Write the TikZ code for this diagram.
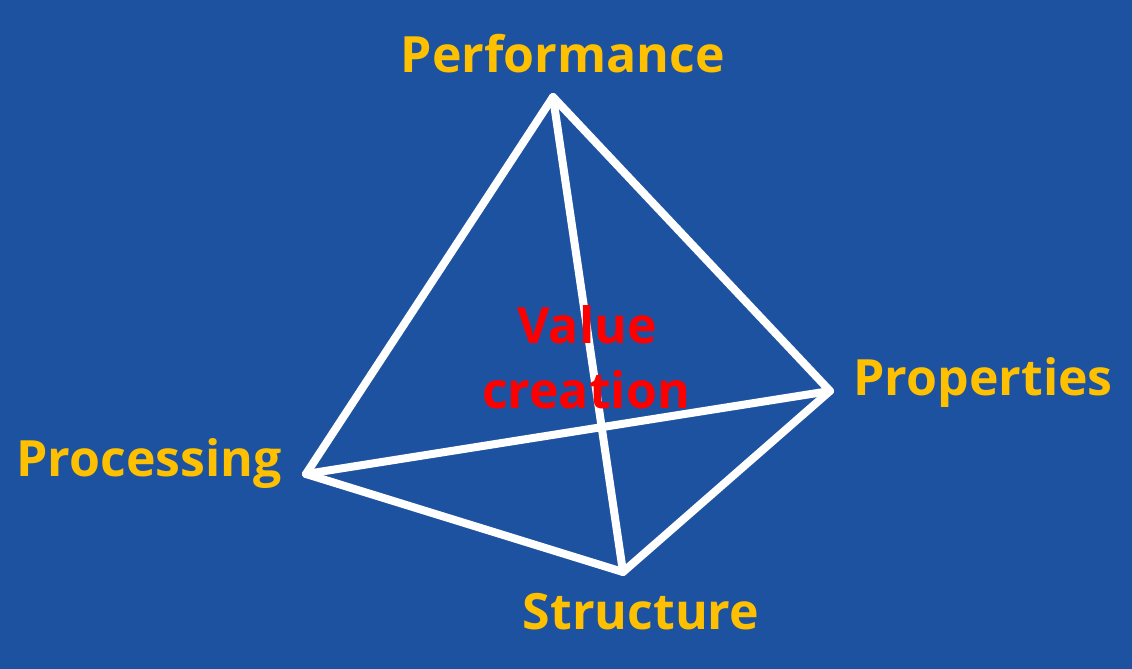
\documentclass[tikz,border=0pt]{standalone}
\usepackage{fontspec}
\setmainfont{Open Sans}
\definecolor{bgblue}{HTML}{1D52A1}
\definecolor{gold}{HTML}{FFC000}
\definecolor{vred}{HTML}{FF0000}
\begin{document}
\begin{tikzpicture}[x=1pt,y=-1pt,
  edge/.style={draw=white,line width=8pt,line join=round,line cap=round},
  lbl/.style={text=gold,font=\fontsize{50}{60}\selectfont\bfseries,anchor=base,inner sep=0pt},
  vlbl/.style={text=vred,font=\fontsize{50}{60}\selectfont\bfseries,anchor=base,inner sep=0pt}]
\fill[bgblue] (0,0) rectangle (1132,669);
\useasboundingbox (0,0) rectangle (1132,669);
\coordinate (T) at (553,97);
\coordinate (R) at (830,391);
\coordinate (L) at (306,474);
\coordinate (B) at (623,572);
\draw[edge] (T) -- (L);
\draw[edge] (T) -- (R);
\draw[edge] (T) -- (B);
\draw[edge] (L) -- (R);
\draw[edge] (L) -- (B);
\draw[edge] (R) -- (B);
\node[lbl] (perf) at (563,72) {Performance};
\node[lbl] (prop) at (983,395) {Properties};
\node[lbl] (proc) at (149,476) {Processing};
\node[lbl] (struc) at (641,629) {Structure};
\node[vlbl] (val) at (587,343) {Value};
\node[vlbl] (cre) at (586,408) {creation};
\end{tikzpicture}
\end{document}
